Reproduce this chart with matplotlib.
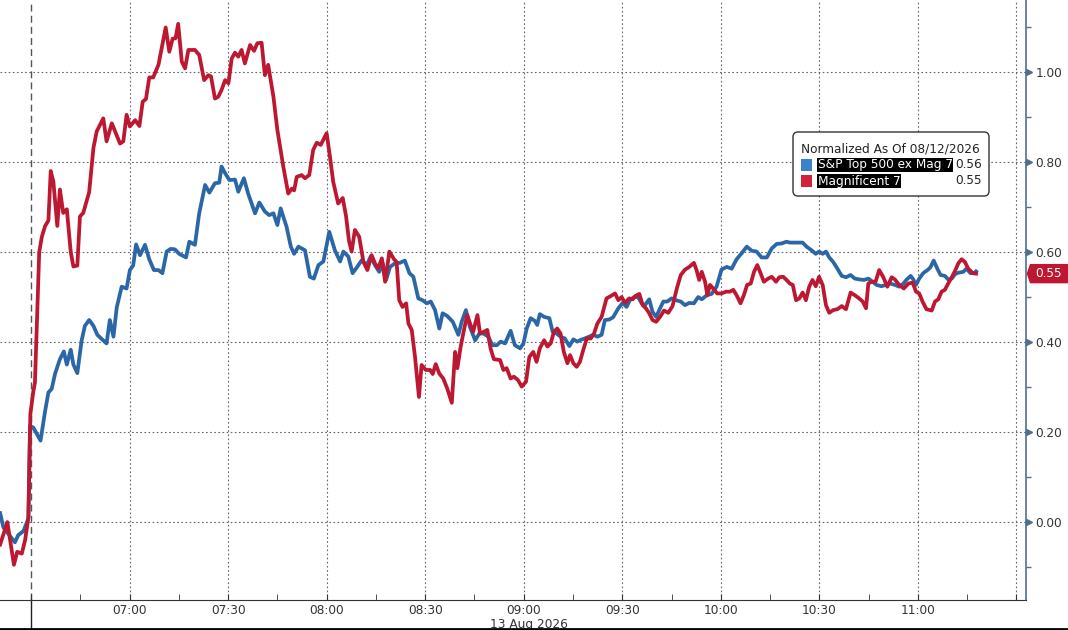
import numpy as np
import matplotlib
matplotlib.use("Agg")
import matplotlib.pyplot as plt
from matplotlib.patches import FancyBboxPatch, Rectangle, Polygon
from matplotlib.lines import Line2D

# minutes after 06:30 on 13 Aug 2026 (negative = prior session), normalized values
sp_t = [-9.4, -8.4, -4.9, -3.9, -2.3, -0.8, -0.3, 0.7, 2.9, 4.3, 5.3, 6.3, 7.3, 8.8, 10.0, 10.9,
        12.1, 12.9, 14.1, 15.4, 16.4, 17.7, 19.0, 20.2, 21.5, 23.0, 24.0, 25.1, 26.1, 27.6, 29.1,
        30.1, 31.1, 32.0, 33.2, 34.7, 36.0, 37.4, 38.8, 40.0, 41.3, 42.5, 43.8, 45.1, 47.2, 48.2,
        49.9, 51.2, 53.0, 54.3, 56.0, 57.3, 58.0, 59.1, 60.4, 62.1, 63.1, 64.8, 66.1, 68.2, 69.5,
        71.2, 72.5, 73.8, 75.0, 76.0, 77.8, 79.1, 80.1, 81.4, 83.4, 84.9, 86.1, 87.5, 89.0, 90.8,
        92.5, 94.1, 95.1, 96.6, 97.9, 99.3, 100.7, 102.2, 103.4, 104.7, 106.0, 107.1, 108.1, 109.3,
        110.8, 112.3, 113.8, 115.2, 116.4, 117.9, 119.2, 120.5, 121.7, 123.0, 124.3, 125.3, 126.7,
        128.4, 130.1, 131.1, 132.4, 133.6, 135.2, 136.5, 137.7, 139.2, 140.5, 141.8, 143.0, 144.3,
        146.0, 147.3, 148.9, 149.9, 150.9, 152.1, 153.4, 154.1, 154.9, 156.2, 157.8, 158.8, 160.0,
        161.2, 162.5, 163.9, 165.1, 166.3, 167.4, 168.6, 169.9, 171.2, 172.4, 173.7, 174.7, 176.0,
        177.2, 178.8, 180.1, 181.3, 182.3, 183.6, 184.8, 185.9, 186.9, 188.2, 189.2, 190.3, 191.5,
        192.5, 193.7, 195.0, 196.3, 197.8, 199.1, 200.4, 201.8, 203.1, 204.2, 205.7, 207.2, 208.7,
        210.2, 211.8, 213.3, 214.8, 216.3, 217.9, 219.4, 220.9, 222.4, 224.0, 225.5, 227.0, 228.5,
        230.0, 231.0, 233.6, 234.9, 236.1, 237.6, 238.9, 239.9, 241.0, 242.0, 243.0, 244.2, 245.5,
        246.8, 248.1, 249.5, 250.8, 252.4, 253.6, 254.9, 256.2, 257.4, 258.9, 260.3, 261.5, 263.0,
        264.3, 265.6, 266.6, 267.8, 268.6, 269.4, 270.4, 271.6, 273.1, 273.8, 274.8, 275.9, 276.9,
        278.2, 279.2, 280.3, 281.3, 282.3, 283.8, 284.8, 286.0, 287.4, 287.7]
sp_vals = [0.02, -0.012, -0.045, -0.029, -0.02, 0.008, 0.214, 0.21, 0.181, 0.247, 0.288, 0.296,
           0.329, 0.362, 0.379, 0.35, 0.383, 0.35, 0.331, 0.403, 0.436, 0.449, 0.436, 0.416, 0.407,
           0.397, 0.449, 0.412, 0.477, 0.523, 0.519, 0.56, 0.57, 0.617, 0.593, 0.616, 0.584, 0.56,
           0.56, 0.553, 0.601, 0.607, 0.606, 0.596, 0.588, 0.623, 0.616, 0.686, 0.749, 0.732, 0.753,
           0.754, 0.79, 0.775, 0.76, 0.761, 0.734, 0.764, 0.73, 0.686, 0.71, 0.69, 0.682, 0.686,
           0.66, 0.697, 0.656, 0.612, 0.596, 0.612, 0.604, 0.545, 0.541, 0.571, 0.579, 0.645, 0.604,
           0.579, 0.601, 0.59, 0.553, 0.567, 0.582, 0.571, 0.59, 0.571, 0.556, 0.575, 0.538, 0.567,
           0.575, 0.576, 0.581, 0.553, 0.545, 0.497, 0.493, 0.486, 0.49, 0.471, 0.43, 0.464, 0.458,
           0.445, 0.416, 0.445, 0.471, 0.434, 0.404, 0.419, 0.419, 0.412, 0.393, 0.393, 0.401, 0.397,
           0.425, 0.393, 0.386, 0.397, 0.43, 0.453, 0.447, 0.438, 0.462, 0.456, 0.453, 0.423, 0.419,
           0.412, 0.408, 0.391, 0.406, 0.401, 0.405, 0.408, 0.412, 0.416, 0.412, 0.416, 0.449, 0.45,
           0.455, 0.475, 0.487, 0.478, 0.493, 0.50, 0.50, 0.486, 0.482, 0.495, 0.467, 0.456, 0.475,
           0.49, 0.49, 0.497, 0.493, 0.49, 0.482, 0.487, 0.486, 0.50, 0.495, 0.504, 0.507, 0.523,
           0.561, 0.567, 0.563, 0.584, 0.597, 0.612, 0.603, 0.601, 0.588, 0.588, 0.608, 0.618, 0.619,
           0.623, 0.621, 0.621, 0.621, 0.612, 0.604, 0.596, 0.601, 0.596, 0.601, 0.588, 0.578, 0.563,
           0.547, 0.544, 0.549, 0.541, 0.539, 0.538, 0.541, 0.534, 0.527, 0.524, 0.527, 0.53, 0.527,
           0.523, 0.53, 0.539, 0.547, 0.539, 0.527, 0.541, 0.553, 0.561, 0.566, 0.581, 0.563, 0.549,
           0.547, 0.539, 0.541, 0.551, 0.554, 0.556, 0.563, 0.553, 0.554, 0.557]

mag_t = [-9.4, -7.2, -5.2, -4.2, -2.8, -1.8, -0.8, -0.2, 0.7, 1.2, 1.7, 2.5, 3.3, 4.3, 5.3, 6.0,
         6.8, 8.0, 8.8, 9.8, 10.9, 12.1, 12.9, 14.1, 14.9, 15.9, 17.7, 19.0, 20.0, 22.0, 23.0, 24.6,
         25.6, 27.1, 28.1, 29.1, 30.1, 31.7, 33.0, 34.0, 35.0, 36.0, 37.2, 38.8, 41.0, 42.1, 43.1,
         44.0, 44.8, 45.9, 46.9, 47.9, 49.9, 51.2, 52.7, 54.0, 54.8, 56.0, 57.0, 58.0, 59.1, 60.1,
         61.1, 62.1, 63.1, 64.1, 65.1, 66.7, 67.9, 68.9, 70.2, 71.2, 72.2, 73.8, 75.0, 76.8, 78.3,
         79.4, 80.1, 80.9, 82.4, 83.4, 84.7, 85.9, 87.0, 88.2, 90.0, 91.0, 92.0, 93.5, 94.9, 95.9,
         96.8, 97.6, 98.6, 99.9, 101.2, 102.4, 103.7, 104.7, 105.7, 106.8, 107.8, 109.1, 110.5,
         111.3, 112.1, 113.1, 114.2, 114.9, 115.9, 116.9, 118.1, 118.9, 120.2, 121.5, 122.3, 123.2,
         124.3, 125.5, 126.7, 128.1, 129.1, 129.8, 130.8, 131.8, 132.8, 133.8, 134.6, 135.9, 136.7,
         137.9, 138.9, 139.9, 140.9, 142.8, 143.8, 144.8, 146.0, 147.0, 148.2, 149.4, 150.7, 151.7,
         152.9, 153.9, 154.9, 156.2, 157.2, 158.2, 159.2, 160.2, 161.2, 162.2, 163.3, 164.1, 165.1,
         166.1, 167.1, 168.1, 169.2, 170.4, 171.4, 172.4, 173.7, 175.2, 176.2, 177.8, 178.8, 179.8,
         180.8, 182.1, 183.2, 183.9, 185.2, 186.2, 187.2, 188.2, 189.2, 190.3, 191.5, 192.7, 194.0,
         195.3, 196.6, 197.8, 199.1, 200.4, 201.8, 202.6, 203.4, 204.2, 205.2, 205.9, 206.7, 207.9,
         208.9, 210.2, 211.6, 212.8, 213.8, 214.8, 216.0, 217.0, 218.0, 219.1, 220.1, 221.1, 222.1,
         223.1, 224.4, 225.5, 226.8, 227.8, 229.0, 230.0, 231.0, 231.9, 232.9, 233.9, 234.9, 235.9,
         236.9, 237.9, 238.9, 239.9, 241.0, 242.0, 243.0, 244.2, 245.5, 246.8, 248.1, 249.5, 250.8,
         252.1, 253.2, 254.2, 254.9, 255.9, 257.1, 258.2, 259.4, 260.7, 262.0, 263.0, 264.3, 265.7,
         267.1, 268.4, 269.4, 270.4, 271.4, 272.6, 274.2, 275.2, 276.2, 277.2, 278.2, 279.2, 280.3,
         281.3, 282.3, 283.3, 284.3, 285.3, 286.7, 287.7]
mag_vals = [-0.05, 0.0, -0.095, -0.066, -0.07, -0.04, 0.01, 0.24, 0.29, 0.31, 0.42, 0.60, 0.634,
            0.658, 0.67, 0.78, 0.757, 0.658, 0.739, 0.687, 0.695, 0.60, 0.568, 0.57, 0.679, 0.687,
            0.733, 0.831, 0.868, 0.897, 0.846, 0.886, 0.868, 0.841, 0.846, 0.905, 0.879, 0.893,
            0.88, 0.934, 0.94, 0.988, 0.988, 1.016, 1.099, 1.045, 1.074, 1.075, 1.107, 1.023, 1.008,
            1.049, 1.049, 1.038, 0.982, 0.993, 0.99, 0.941, 0.945, 0.96, 0.982, 0.975, 1.03, 1.043,
            1.034, 1.049, 1.019, 1.06, 1.047, 1.064, 1.065, 0.993, 1.016, 0.945, 0.871, 0.79, 0.73,
            0.741, 0.737, 0.767, 0.771, 0.764, 0.771, 0.827, 0.843, 0.838, 0.864, 0.812, 0.756,
            0.708, 0.72, 0.68, 0.625, 0.601, 0.649, 0.634, 0.578, 0.56, 0.593, 0.575, 0.564, 0.586,
            0.534, 0.601, 0.584, 0.578, 0.493, 0.478, 0.486, 0.441, 0.427, 0.367, 0.278, 0.349,
            0.338, 0.338, 0.329, 0.351, 0.33, 0.319, 0.297, 0.265, 0.378, 0.342, 0.39, 0.427, 0.46,
            0.438, 0.423, 0.46, 0.419, 0.423, 0.427, 0.386, 0.362, 0.36, 0.338, 0.342, 0.319, 0.323,
            0.316, 0.301, 0.312, 0.367, 0.378, 0.356, 0.386, 0.404, 0.39, 0.397, 0.423, 0.43, 0.419,
            0.378, 0.353, 0.371, 0.353, 0.345, 0.356, 0.382, 0.408, 0.408, 0.419, 0.441, 0.456,
            0.497, 0.501, 0.508, 0.493, 0.50, 0.487, 0.497, 0.495, 0.502, 0.507, 0.482, 0.475,
            0.464, 0.449, 0.445, 0.456, 0.47, 0.465, 0.48, 0.519, 0.549, 0.561, 0.567, 0.576, 0.56,
            0.538, 0.556, 0.534, 0.504, 0.527, 0.517, 0.508, 0.508, 0.512, 0.512, 0.516, 0.504,
            0.486, 0.504, 0.527, 0.53, 0.556, 0.571, 0.553, 0.534, 0.541, 0.545, 0.534, 0.544,
            0.545, 0.538, 0.53, 0.527, 0.493, 0.497, 0.51, 0.493, 0.523, 0.538, 0.524, 0.545, 0.527,
            0.482, 0.465, 0.471, 0.473, 0.48, 0.473, 0.51, 0.504, 0.497, 0.49, 0.475, 0.53, 0.534,
            0.534, 0.56, 0.545, 0.523, 0.544, 0.539, 0.527, 0.519, 0.53, 0.532, 0.512, 0.508, 0.49,
            0.473, 0.47, 0.49, 0.495, 0.512, 0.516, 0.53, 0.544, 0.558, 0.575, 0.584, 0.578, 0.563,
            0.553, 0.552]

legend_title = "Normalized As Of 08/12/2026"
series_names = ["S&P Top 500 ex Mag 7", "Magnificent 7"]
date_label = "13 Aug 2026"

BLUE = "#2b66a6"
RED = "#bd1731"
AXIS = "#4e6f8f"
GRID = "#666666"
TXT = "#333333"
FS = 8.7

fig = plt.figure(figsize=(10.68, 6.3), dpi=100)
ax = fig.add_axes([0, 30.5 / 630, 1026 / 1068, 599.5 / 630])

ax.plot(sp_t, sp_vals, color=BLUE, lw=2.7, solid_joinstyle="round", zorder=3)
ax.plot(mag_t, mag_vals, color=RED, lw=2.7, solid_joinstyle="round", zorder=4)

ax.set_xlim(-9.44, 302.9)
ax.set_ylim(-0.172, 1.16)

# grid
xmajor = np.arange(0, 301, 30)
ymajor = np.round(np.arange(0, 1.01, 0.2), 2)
for m in xmajor:
    if m == 0:
        ax.axvline(m, color="#555555", lw=1.0, ls=(0, (5, 3)), zorder=1)
    else:
        ax.axvline(m, color=GRID, lw=0.8, ls=(0, (1.5, 2.2)), zorder=1)
for v in ymajor:
    ax.axhline(v, color=GRID, lw=0.8, ls=(0, (1.5, 2.2)), zorder=1)

# x axis
def fmt(m):
    return "" if m in (0, 300) else f"{(390 + m) // 60:02d}:{(390 + m) % 60:02d}"

ax.set_xticks(xmajor)
ax.set_xticklabels([fmt(m) for m in xmajor])
ax.set_xticks(np.arange(15, 300, 30), minor=True)
ax.tick_params(axis="x", which="both", direction="in", length=4, color=TXT,
               labelsize=FS, labelcolor=TXT, pad=3)
ax.text(151.5, -0.042, date_label, transform=ax.get_xaxis_transform(), ha="center",
        va="center", fontsize=FS, color=TXT)
ax.plot([0, 0], [0, -0.051], transform=ax.get_xaxis_transform(), color="#222222", lw=1,
        clip_on=False)

# y axis on the right
ax.yaxis.tick_right()
ax.set_yticks(ymajor)
ax.set_yticklabels([f"{v:.2f}" for v in ymajor])
ax.set_yticks(np.round(np.arange(-0.1, 1.16, 0.2), 2), minor=True)
ax.tick_params(axis="y", which="major", length=0, pad=7, labelsize=FS, labelcolor=TXT)
ax.tick_params(axis="y", which="minor", length=3.5, width=1, color=AXIS, direction="out")
ax.plot([1.0032] * len(ymajor), ymajor, ls="none", marker=">", ms=4.2, color=AXIS,
        transform=ax.get_yaxis_transform(), clip_on=False)

for s in ["top", "left"]:
    ax.spines[s].set_visible(False)
ax.spines["bottom"].set_color(TXT)
ax.spines["right"].set_color(AXIS)
ax.spines["right"].set_linewidth(1.2)

# last value tag (pointed box at right edge)
yin = ax.transData.transform((0, mag_vals[-1]))[1] / fig.dpi
tr = fig.dpi_scale_trans
hh = 0.097
fig.add_artist(Polygon([(10.267, yin), (10.30, yin + hh), (10.68, yin + hh), (10.68, yin - hh),
                        (10.30, yin - hh)], closed=True, transform=tr, fc=RED, ec="none"))
fig.text(10.35, yin, f"{mag_vals[-1]:.2f}", transform=tr, ha="left", va="center",
         color="white", fontsize=FS)

# legend box
fig.add_artist(FancyBboxPatch((7.93, 4.34), 1.96, 0.64, boxstyle="round,pad=0,rounding_size=0.05",
                              transform=tr, fc="white", ec="#333333", lw=1))
fig.text(8.01, 4.81, legend_title, transform=tr, ha="left", va="center", fontsize=FS, color="#222222")
rows = [(series_names[0], sp_vals[-1], "#3b82cc", 4.65), (series_names[1], mag_vals[-1], "#d3213b", 4.49)]
for name, last, col, yy in rows:
    fig.add_artist(Rectangle((8.01, yy - 0.06), 0.11, 0.12, transform=tr, fc=col, ec="none"))
    fig.text(8.175, yy, name, transform=tr, ha="left", va="center", fontsize=FS, color="white",
             bbox=dict(boxstyle="square,pad=0.08", fc="black", ec="none"))
    fig.text(9.82, yy, f"{last:.2f}", transform=tr, ha="right", va="center", fontsize=FS,
             color="#222222")

fig.add_artist(Line2D([0, 1], [0.0016, 0.0016], transform=fig.transFigure, color="black", lw=2))

fig.savefig("out.png", dpi=100)
